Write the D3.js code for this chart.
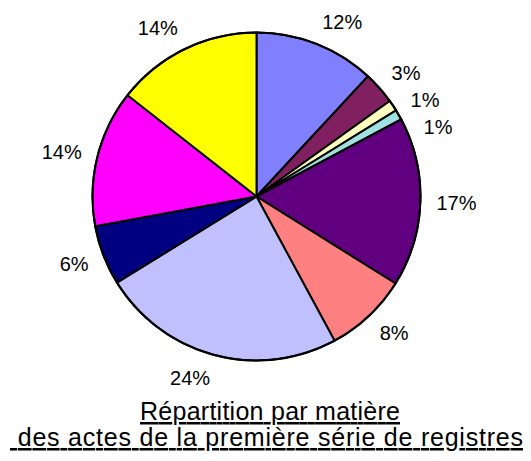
<!DOCTYPE html>
<html>
<head>
<meta charset="utf-8">
<script src="https://cdn.jsdelivr.net/npm/d3@7"></script>
<style>
  html, body { margin: 0; padding: 0; background: #fff; }
  svg { display: block; }
  text { font-family: "Liberation Sans", Arial, sans-serif; fill: #000; }
</style>
</head>
<body>
<svg id="chart" width="531" height="461"></svg>
<script>
// ---- data ----
const categories = ["A", "B", "C", "D", "E", "F", "G", "H", "I", "J"];
const values = [11.9, 3.2, 1.1, 1.0, 16.7, 8.2, 24.1, 5.9, 13.5, 14.4];
const labels = ["12%", "3%", "1%", "1%", "17%", "8%", "24%", "6%", "14%", "14%"];
const colors = ["#8080FF", "#802060", "#FFFFC0", "#A0E0E0", "#600080",
                "#FF8080", "#C0C0FF", "#000080", "#FF00FF", "#FFFF00"];
const titleLines = ["Répartition par matière", " des actes de la première série de registres"];

// ---- layout ----
const svg = d3.select("#chart");
const cx = 256.5, cy = 196.5, R = 164;
const labelFont = 20, titleFont = 25;

const pie = d3.pie().sort(null).value(d => d)
  .startAngle(0).endAngle(2 * Math.PI);
const arcs = pie(values);
const arc = d3.arc().innerRadius(0).outerRadius(R);

const g = svg.append("g").attr("transform", `translate(${cx},${cy})`);

g.selectAll("path.slice")
  .data(arcs)
  .enter().append("path")
  .attr("class", "slice")
  .attr("d", arc)
  .attr("fill", (d, i) => colors[i])
  .attr("stroke", "#000")
  .attr("stroke-width", 2)
  .attr("stroke-linejoin", "round");

g.append("circle").attr("r", R).attr("fill", "none")
  .attr("stroke", "#000").attr("stroke-width", 2);

// ---- labels: anchored outside, nudged along the circle to avoid overlap ----
const anchorR = R + 16;
const boxes = [];
const measure = g.append("text").style("font-size", labelFont + "px");
function labelWidth(t) { measure.text(t); return measure.node().getComputedTextLength(); }
const lh = 23, pad = 3;
function place(theta, w) {
  const ax = anchorR * Math.sin(theta), ay = -anchorR * Math.cos(theta);
  const s = Math.abs(Math.sin(theta)) < 0.05 ? 0 : Math.sign(Math.sin(theta));
  return { x: ax + s * w / 2, y: ay - 7.5 * Math.cos(theta), w: w };
}
function overlaps(a, b) {
  return Math.abs(a.x - b.x) < (a.w + b.w) / 2 && Math.abs(a.y - b.y) < lh + pad;
}
arcs.forEach((d, i) => {
  const w = labelWidth(labels[i]);
  let theta = (d.startAngle + d.endAngle) / 2;
  let p = place(theta, w);
  let guard = 0;
  while (boxes.some(b => overlaps(b, p)) && guard < 60) {
    theta += Math.PI / 360; p = place(theta, w); guard++;
  }
  boxes.push(p);
});
measure.remove();

g.selectAll("text.lbl")
  .data(boxes)
  .enter().append("text")
  .attr("class", "lbl")
  .attr("x", d => d.x)
  .attr("y", d => d.y + 7.2)
  .attr("text-anchor", "middle")
  .style("font-size", labelFont + "px")
  .text((d, i) => labels[i]);

// ---- title ----
const titleX = [140, 10];
const titleW = [260, 513];
const titleY = [420, 446];
svg.selectAll("text.title")
  .data(titleLines)
  .enter().append("text")
  .attr("class", "title")
  .attr("x", (d, i) => titleX[i])
  .attr("y", (d, i) => titleY[i])
  .attr("text-anchor", "start")
  .attr("textLength", (d, i) => titleW[i])
  .attr("lengthAdjust", "spacing")
  .style("font-size", titleFont + "px")
  .style("white-space", "pre")
  .style("text-decoration", "underline")
  .text(d => d);
</script>
</body>
</html>
